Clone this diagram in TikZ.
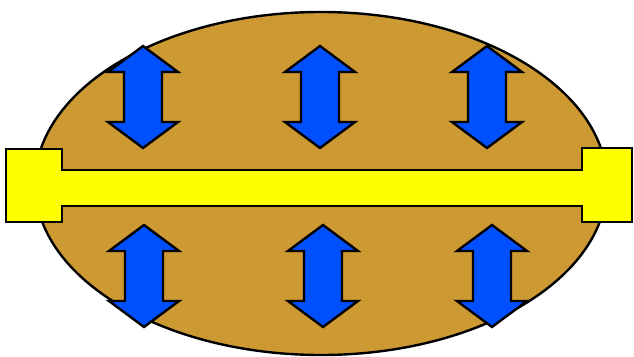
\documentclass[tikz,border=0pt]{standalone}
\begin{document}
\definecolor{bodybrown}{RGB}{204,153,51}
\definecolor{rodyellow}{RGB}{255,255,0}
\definecolor{pushblue}{RGB}{0,80,255}
\begin{tikzpicture}[x=1pt,y=-1pt,line join=miter,
  outline/.style={draw=black,line width=2.4pt},
  body/.style={outline,fill=bodybrown},
  rod/.style={outline,fill=rodyellow},
  push/.style={outline,fill=pushblue}]
\useasboundingbox (0,0) rectangle (634,356);
% body
\draw[body] (321,183.5) ellipse [x radius=286,y radius=171.5];
% rod with end blocks
\draw[rod] (6,149) -- (62,149) -- (62,170) -- (582,170) -- (582,148)
  -- (632,148) -- (632,222) -- (582,222) -- (582,206) -- (62,206)
  -- (62,222) -- (6,222) -- cycle;
% double-headed arrows: centre x, centre y
\foreach \cx/\cy in {143/97, 320/97, 487/97, 144/276, 323/276, 492/276}{
  \draw[push] (\cx,\cy-51) -- (\cx+35,\cy-25) -- (\cx+19,\cy-25)
    -- (\cx+19,\cy+25) -- (\cx+35,\cy+25) -- (\cx,\cy+51)
    -- (\cx-35,\cy+25) -- (\cx-19,\cy+25) -- (\cx-19,\cy-25)
    -- (\cx-35,\cy-25) -- cycle;
}
\end{tikzpicture}
\end{document}
